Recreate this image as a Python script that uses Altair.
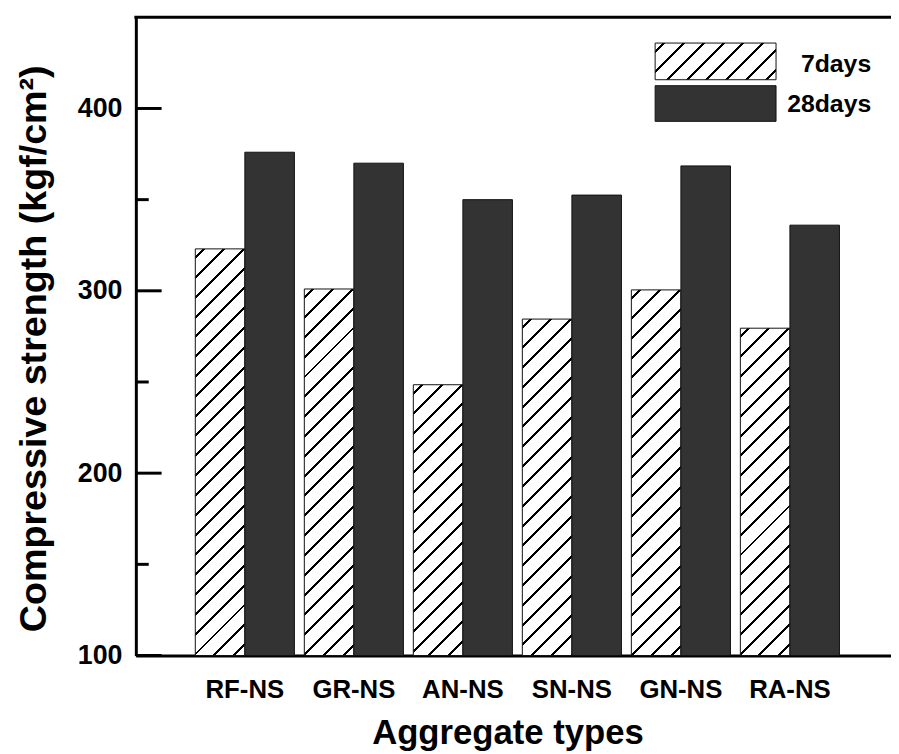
import altair as alt
import pandas as pd

# ---------------- data ----------------
categories = ["RF-NS", "GR-NS", "AN-NS", "SN-NS", "GN-NS", "RA-NS"]
series = ["7days", "28days"]
strength_7days = [323, 301, 248.5, 284.5, 300.5, 279.5]
strength_28days = [376, 370, 350, 352.5, 368.5, 336]
y_major = [100, 200, 300, 400]
y_minor = [150, 250, 350]
y_domain = [100, 450]

# ---------------- layout / style constants ----------------
FONT = "Liberation Sans, Arial, sans-serif"
PLOT_W = 762          # visible part of the plot
BAND_RANGE = 770      # full category range (right part cut off like the reference)
PLOT_H = 644
BAR_W = 50
HATCH_PERIOD = 20
HATCH_LW = 3.0
DARK = "#333333"


def hatch(w, h, phase=9.0):
    """Linear gradient with hard stops that draws '/' hatch lines
    on an SVG object bounding box of w x h pixels."""
    total = w + h
    k = total / (w * w + h * h)
    stops = [{"offset": 0, "color": "white"}]
    c = phase
    while c - HATCH_LW / 2 < total:
        a = max(0.0, (c - HATCH_LW / 2) / total)
        b = min(1.0, (c + HATCH_LW / 2) / total)
        stops += [
            {"offset": a, "color": "white"},
            {"offset": a, "color": "black"},
            {"offset": b, "color": "black"},
            {"offset": b, "color": "white"},
        ]
        c += HATCH_PERIOD
    stops.append({"offset": 1, "color": "white"})
    return {"gradient": "linear", "x1": 0, "y1": 0, "x2": k * w, "y2": k * h, "stops": stops}


def bar_px_height(v):
    return (v - y_domain[0]) / (y_domain[1] - y_domain[0]) * PLOT_H


records = []
for i, cat in enumerate(categories):
    for s, vals in zip(series, [strength_7days, strength_28days]):
        v = vals[i]
        paint = hatch(BAR_W, bar_px_height(v)) if s == "7days" else DARK
        records.append({"category": cat, "series": s, "strength": v, "paint": paint})

bar_data = alt.Data(values=records)

y_scale = alt.Scale(domain=y_domain, nice=False, zero=False)
x_scale = alt.Scale(domain=categories, range=[0, BAND_RANGE], paddingInner=0, paddingOuter=0.5)

y_axis = alt.Axis(
    values=y_major,
    title="Compressive strength (kgf/cm²)",
    titleFont=FONT,
    titleFontSize=38,
    titleFontWeight="bold",
    titleColor="black",
    titleBaseline="alphabetic",
    titleAngle=-90,
    titleX=-91,
    titleY=334,
    labelFont=FONT,
    labelFontSize=27,
    labelFontWeight="bold",
    labelColor="black",
    labelAlign="right",
    labelBaseline="middle",
    labelPadding=14,
    ticks=False,
    grid=False,
    domain=True,
    domainColor="black",
    domainWidth=3,
)

bars = alt.Chart(bar_data).mark_bar(stroke="#111111", strokeWidth=1).encode(
    x=alt.X(
        "category:N",
        sort=categories,
        scale=x_scale,
        axis=alt.Axis(
            title="Aggregate types",
            titleFont=FONT,
            titleFontSize=35,
            titleFontWeight="bold",
            titleColor="black",
            titleBaseline="alphabetic",
            titleX=375,
            titleY=89,
            labelFont=FONT,
            labelFontSize=26,
            labelFontWeight="bold",
            labelColor="black",
            labelAngle=0,
            labelBaseline="alphabetic",
            labelPadding=42,
            ticks=False,
            grid=False,
            domain=True,
            domainColor="black",
            domainWidth=3,
        ),
    ),
    xOffset=alt.XOffset(
        "series:N",
        sort=series,
        scale=alt.Scale(domain=series, paddingInner=0, paddingOuter=0.1),
    ),
    y=alt.Y("strength:Q", scale=y_scale, axis=y_axis),
    y2=alt.datum(100),
    fill=alt.Fill("paint:N", scale=None, legend=None),
)

# inward major / minor ticks on the left axis
major_ticks = alt.Chart(pd.DataFrame({"strength": y_major})).mark_rule(
    color="black", strokeWidth=3
).encode(
    y=alt.Y("strength:Q", scale=y_scale, axis=y_axis),
    x=alt.value(0),
    x2=alt.value(26),
)
minor_ticks = alt.Chart(pd.DataFrame({"strength": y_minor})).mark_rule(
    color="black", strokeWidth=3
).encode(
    y=alt.Y("strength:Q", scale=y_scale, axis=y_axis),
    x=alt.value(0),
    x2=alt.value(13),
)

# top frame line
top_line = alt.Chart(pd.DataFrame({"strength": [y_domain[1]]})).mark_rule(
    color="black", strokeWidth=3
).encode(
    y=alt.Y("strength:Q", scale=y_scale, axis=y_axis),
    x=alt.value(-1.5),
    x2=alt.value(PLOT_W + 20),
)

# manual legend
LEG_X1, LEG_X2 = 524, 646
leg_boxes = [(26, 63), (69, 105)]
leg_text_y = [55, 96]
legend_layers = []
for i, s in enumerate(series):
    y1, y2 = leg_boxes[i]
    paint = hatch(LEG_X2 - LEG_X1, y2 - y1) if s == "7days" else DARK
    df = pd.DataFrame({"series": [s]})
    legend_layers.append(
        alt.Chart(df).mark_rect(stroke="#111111", strokeWidth=1).encode(
            x=alt.value(LEG_X1), x2=alt.value(LEG_X2),
            y=alt.value(y1), y2=alt.value(y2),
            fill=alt.value(paint),
        )
    )
    legend_layers.append(
        alt.Chart(df).mark_text(
            font=FONT, fontSize=25, fontWeight="bold", align="right",
            baseline="alphabetic", color="black",
        ).encode(
            x=alt.value(742), y=alt.value(leg_text_y[i]), text="series:N",
        )
    )

chart = alt.layer(bars, major_ticks, minor_ticks, top_line, *legend_layers).properties(
    width=PLOT_W,
    height=PLOT_H,
    autosize=alt.AutoSizeParams(type="none"),
    padding={"left": 129, "top": 6, "right": 0, "bottom": 96},
    background="white",
).configure_view(stroke=None)

chart.save("out.html", embed_options={"renderer": "svg", "actions": False})
